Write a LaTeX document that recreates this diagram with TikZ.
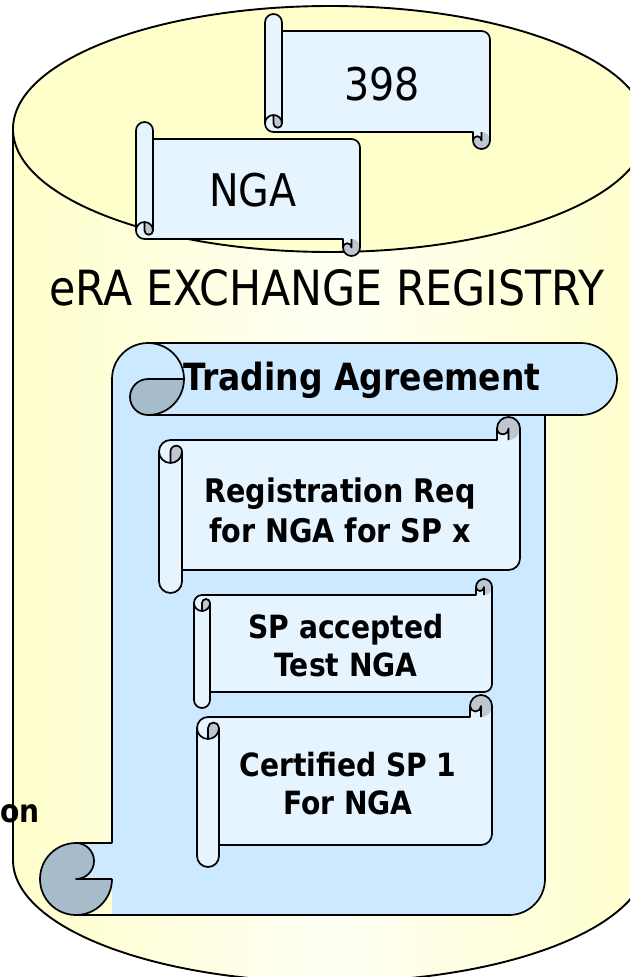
\documentclass[tikz,border=0pt]{standalone}
\usepackage{fontspec}
\newfontfamily\dvfont[FakeStretch=0.88]{DejaVu Sans}
\definecolor{cylY}{HTML}{FFFFCC}
\definecolor{cylW}{HTML}{FFFFF4}
\definecolor{paperS}{HTML}{E6F4FF}
\definecolor{curlS}{HTML}{BEC6D0}
\definecolor{paperB}{HTML}{CCE9FF}
\definecolor{curlB}{HTML}{A6BCCB}
\tikzset{
  outl/.style={draw=black, line width=1.7pt, line join=round},
  cylline/.style={draw=black, line width=1.9pt},
  regtxt/.style={inner sep=0pt, font=\dvfont\fontsize{45}{54}\selectfont},
  boldtxt/.style={inner sep=0pt, align=center, font=\dvfont\bfseries\fontsize{32}{38}\selectfont},
}
\newcommand\hscroll[6]{%
 \pgfmathsetmacro\sW{#3-#1}%
 \pgfmathsetmacro\sH{#4-#2}%
 \pgfmathsetmacro\sc{#5}%
 \pgfmathsetmacro\sch{#5/2}%
 \pgfmathsetmacro\scq{#5/4}%
 \pgfmathsetmacro\sya{1.5*#5}%
 \pgfmathsetmacro\syb{2*#5}%
 \pgfmathsetmacro\syf{\sH-#5}%
 \pgfmathsetmacro\syg{\sH-#5/2}%
 \pgfmathsetmacro\sye{\sH-1.5*#5}%
 \pgfmathsetmacro\sxc{\sW-#5}%
 \pgfmathsetmacro\sxd{\sW-#5/2}%
 \begin{scope}[#6]
  \fill[paperS] (\sW,\sch) arc[start angle=0,delta angle=90,radius=\sch] -- (\sxd,\sch) arc[start angle=0,delta angle=180,radius=\scq] -- (\sxc,\sc) -- (\sch,\sc) arc[start angle=270,delta angle=-90,radius=\sch] -- (0,\syg) arc[start angle=180,delta angle=-180,radius=\sch] -- (\sc,\syf) -- (\sxd,\syf) arc[start angle=90,delta angle=-90,radius=\sch] -- cycle;
  \fill[curlS] (\sch,\syb) arc[start angle=90,delta angle=-90,radius=\sch] arc[start angle=0,delta angle=-180,radius=\scq] -- cycle;
  \fill[curlS] (\sxd,\sc) arc[start angle=90,delta angle=-270,radius=\sch] arc[start angle=180,delta angle=-180,radius=\scq] -- cycle;
  \draw[outl] (0,\sya) arc[start angle=180,delta angle=90,radius=\sch] -- (\sxc,\sc) -- (\sxc,\sch) arc[start angle=180,delta angle=180,radius=\sch] -- (\sW,\sye) arc[start angle=0,delta angle=90,radius=\sch] -- (\sc,\syf) -- (\sc,\syg) arc[start angle=0,delta angle=180,radius=\sch] -- cycle;
  \draw[outl] (\sxd,\sc) -- (\sxd,\sch) arc[start angle=0,delta angle=180,radius=\scq];
  \draw[outl] (\sch,\syb) -- (\sch,\sya) arc[start angle=180,delta angle=180,radius=\scq] arc[start angle=0,delta angle=180,radius=\sch];
  \draw[outl] (\sc,\sya) -- (\sc,\syf);
 \end{scope}}
\begin{document}
\begin{tikzpicture}[x=1pt,y=-1pt]
\useasboundingbox (0,0) rectangle (630,977);
\clip (0,0) rectangle (630,977);
\fill[white] (0,0) rectangle (630,977);
% cylinder
\path[left color=cylY, right color=cylY, middle color=cylW]
  (13,129) -- (13,860) arc[start angle=180,delta angle=-180,x radius=317,y radius=122]
  -- (647,129) arc[start angle=0,delta angle=180,x radius=317,y radius=123] -- cycle;
\draw[cylline] (13,129) -- (13,860) arc[start angle=180,delta angle=-180,x radius=317,y radius=122] -- (647,129);
\draw[cylline, fill=cylY] (330,129) ellipse[x radius=317, y radius=123];
% top scrolls
\hscroll{265}{14}{490}{149}{17}{shift={(265,149)},yscale=-1}
\hscroll{136}{122}{360}{256}{17}{shift={(136,256)},yscale=-1}
\node[regtxt] (t398) at (382,84) {398};
\node[regtxt] (tnga) at (253,190) {NGA};
\node[inner sep=0pt, font=\dvfont\fontsize{48.5}{56}\selectfont] (tera) at (327,288) {eRA EXCHANGE REGISTRY};
% big vertical scroll
\fill[paperB] (112,400) -- (112,915) -- (509,915) arc[start angle=90,delta angle=-90,radius=36] -- (545,400) -- cycle;
\fill[paperB] (112,379) arc[start angle=180,delta angle=90,radius=36] -- (581,343) arc[start angle=270,delta angle=180,radius=36] -- (112,415) -- cycle;
\fill[paperB] (76,843) rectangle (112,879);
\fill[curlB] (184,379) arc[start angle=0,delta angle=90,radius=36] arc[start angle=90,delta angle=180,radius=18] -- cycle;
\fill[curlB] (112,879) arc[start angle=0,delta angle=270,radius=36] arc[start angle=270,delta angle=180,radius=18] -- cycle;
\draw[outl] (112,843) -- (112,379) arc[start angle=180,delta angle=90,radius=36] -- (581,343) arc[start angle=270,delta angle=180,radius=36] -- (545,415) -- (545,879) arc[start angle=0,delta angle=90,radius=36] -- (76,915);
\draw[outl] (76,915) arc[start angle=90,delta angle=180,radius=36] -- (112,843);
\draw[outl] (112,879) arc[start angle=0,delta angle=90,radius=36];
\draw[outl] (148,343) arc[start angle=270,delta angle=180,radius=36] arc[start angle=90,delta angle=180,radius=18] -- (184,379);
\draw[outl] (545,415) -- (148,415);
\draw[outl] (76,843) arc[start angle=270,delta angle=180,radius=18] -- (112,879);
\node[inner sep=0pt, font=\dvfont\bfseries\fontsize{37.5}{44}\selectfont] (ttrade) at (362,380) {Trading Agreement};
% inner scrolls
\hscroll{159}{417}{520}{593}{23}{shift={(159,417)}}
\hscroll{194}{579}{492}{708}{16}{shift={(194,579)}}
\hscroll{197}{695}{492}{867}{22}{shift={(197,695)}}
\node[boldtxt, font=\dvfont\bfseries\fontsize{32.5}{40}\selectfont] (treg) at (340,510) {Registration Req\\for NGA for SP x};
\node[boldtxt] (tsp) at (346,646) {SP accepted\\Test NGA};
\node[boldtxt] (tcert) at (348,784) {Certified SP 1\\For NGA};
\node[boldtxt, anchor=base east] (ton) at (40,822) {on};
\end{tikzpicture}
\end{document}
